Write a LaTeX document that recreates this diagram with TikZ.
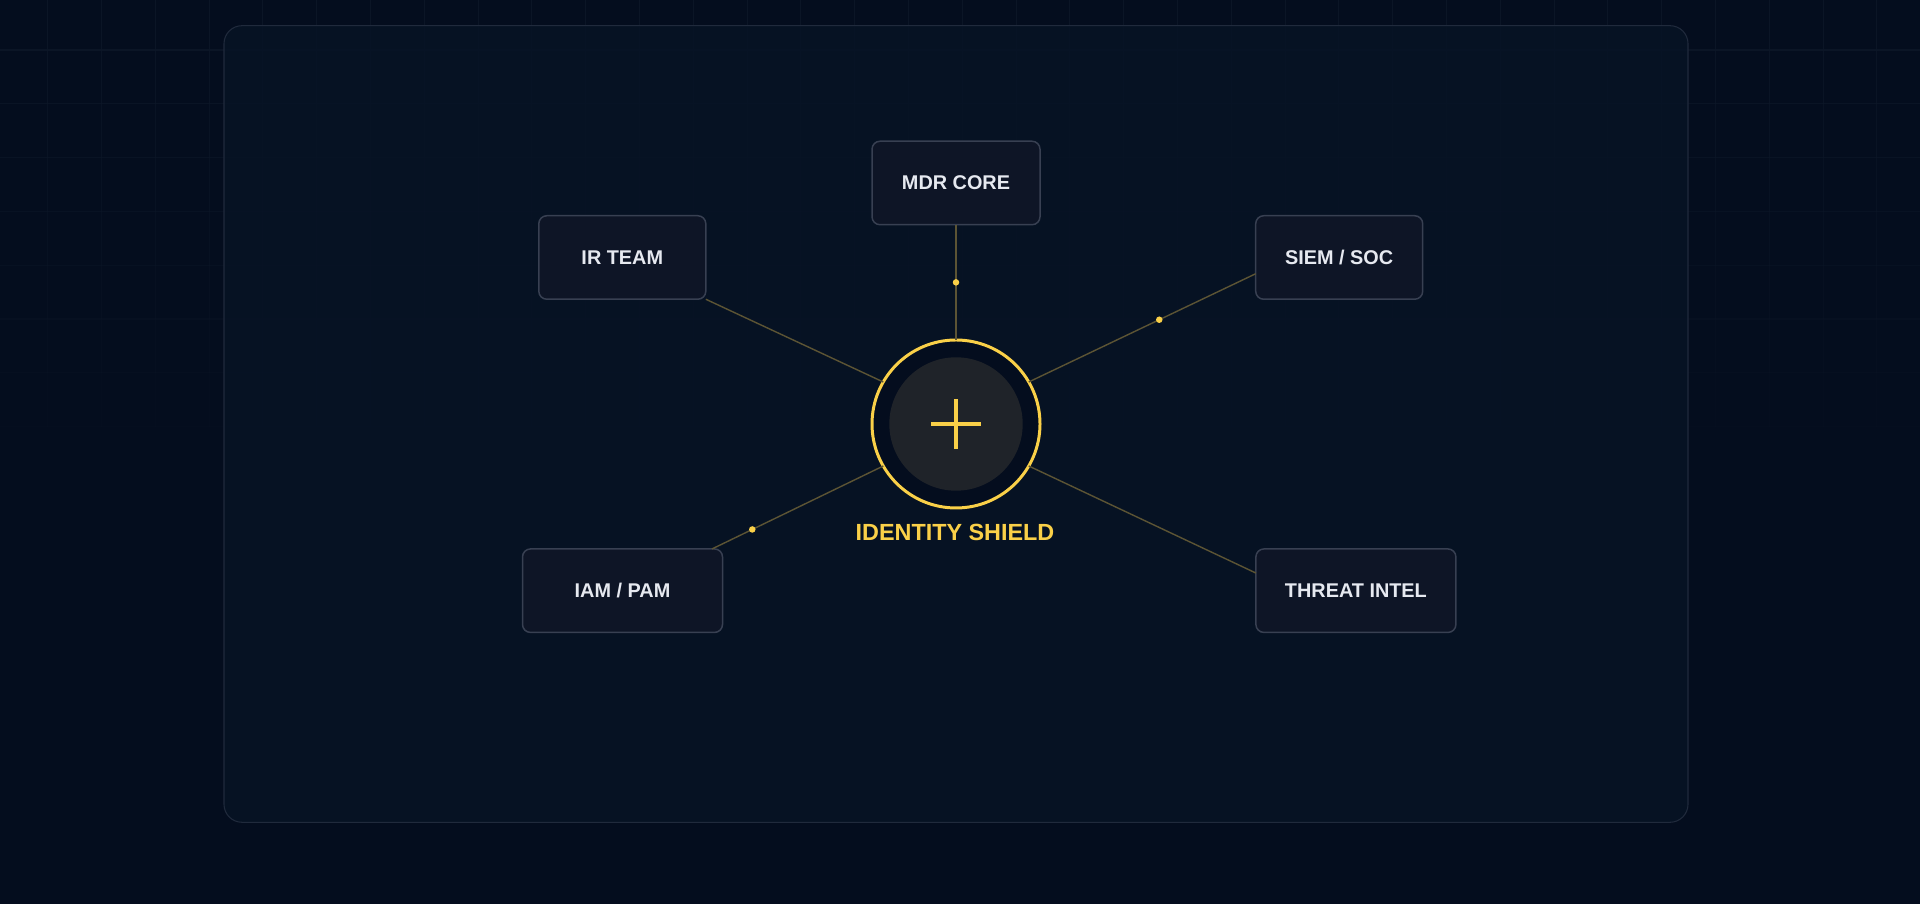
\documentclass[tikz,border=0pt]{standalone}
\usepackage{fontspec}
\setmainfont{Liberation Sans}
\definecolor{pagebg}{RGB}{4,13,30}
\definecolor{panelbg}{RGB}{7,19,37}
\definecolor{panelrule}{RGB}{32,42,60}
\definecolor{gridrule}{RGB}{13,23,40}
\definecolor{boxbg}{RGB}{14,21,38}
\definecolor{boxrule}{RGB}{56,64,82}
\definecolor{boxtext}{RGB}{230,233,240}
\definecolor{shieldgold}{RGB}{250,208,72}
\definecolor{linkgold}{RGB}{92,84,52}
\definecolor{corefill}{RGB}{31,35,41}

\begin{document}
\begin{tikzpicture}[
  sysbox/.style={draw=boxrule, fill=boxbg, line width=0.85pt, rounded corners=0.16cm,
    minimum height=1.67cm, inner sep=0pt, outer sep=0pt, text=boxtext,
    font=\bfseries\fontsize{11.3}{13}\selectfont},
  link/.style={draw=linkgold, line width=0.8pt},
  pulse/.style={circle, fill=shieldgold, inner sep=0pt, minimum size=0.13cm},
  hubring/.style={circle, draw=shieldgold, fill=pagebg, line width=1.7pt,
    minimum size=3.36cm, inner sep=0pt, outer sep=0pt},
  gridline/.style={draw=gridrule, line width=0.6pt}
]
\useasboundingbox (0,0) rectangle (38.400,18.080);
\fill[pagebg] (0,0) rectangle (38.400,18.080);
\foreach \row in {0,...,8} {
  \pgfmathsetmacro{\gridop}{0.8-0.8*\row/9}
  \draw[gridline, opacity=\gridop] (0,17.080-1.076*\row) -- (38.400,17.080-1.076*\row);
  \foreach \col in {0,...,35}
    \draw[gridline, opacity=\gridop] (0.954+1.076*\col,18.156-1.076*\row) -- (0.954+1.076*\col,17.080-1.076*\row);
}
\draw[draw=panelrule, fill=panelbg, fill opacity=0.85, line width=0.6pt, rounded corners=0.36cm] (4.480,1.634) rectangle (33.760,17.566);

\node[hubring] (hub) at (19.120,9.600) {};
\fill[corefill] (hub.center) circle (1.334);
\draw[shieldgold, line width=1.8pt] (hub.center) ++(-0.500,0) -- ++(1.000,0);
\draw[shieldgold, line width=1.8pt] (hub.center) ++(0,-0.500) -- ++(0,1.000);
\node[text=shieldgold, font=\bfseries\fontsize{13.3}{16}\selectfont] (shieldname) at (19.100,7.440) {IDENTITY SHIELD};

\node[sysbox, minimum width=3.360cm] (mdr) at (19.120,14.420) {MDR CORE};
\node[sysbox, minimum width=3.340cm] (ir) at (12.446,12.930) {IR TEAM};
\node[sysbox, minimum width=3.340cm] (siem) at (26.784,12.930) {SIEM / SOC};
\node[sysbox, minimum width=4.000cm] (iam) at (12.450,6.266) {IAM / PAM};
\node[sysbox, minimum width=4.000cm] (threat) at (27.118,6.266) {THREAT INTEL};

\draw[link] (mdr) -- node[pulse, pos=0.5] (mdrpulse) {} (hub);
\draw[link] (ir.south east) -- (hub.150);
\draw[link] (hub.30) -- node[pulse, pos=0.575] (siempulse) {} (siem.191);
\draw[link] (hub.210) -- node[pulse, pos=0.765] (iampulse) {} (iam.25);
\draw[link] (hub.330) -- (threat.170);
\end{tikzpicture}
\end{document}
